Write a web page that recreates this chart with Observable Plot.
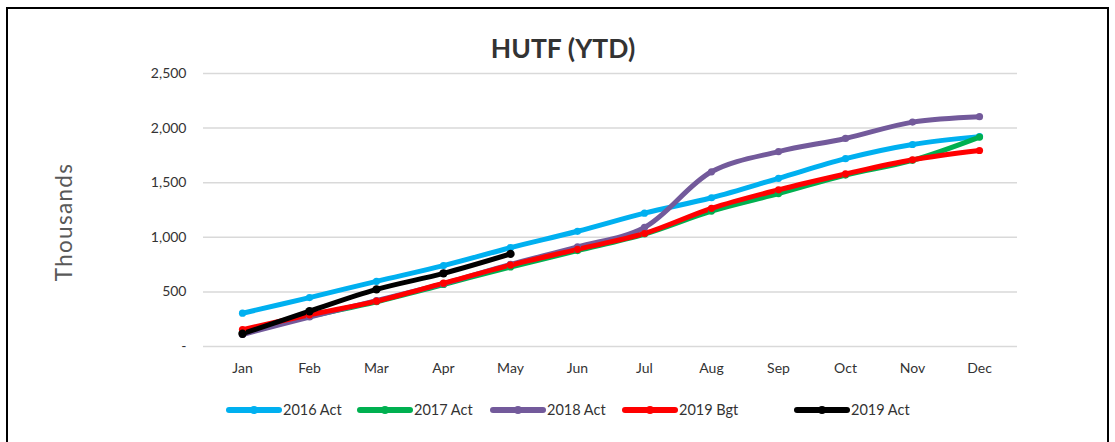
<!DOCTYPE html>
<html><head><meta charset="utf-8">
<script src="https://cdn.jsdelivr.net/npm/d3@7"></script>
<script src="https://cdn.jsdelivr.net/npm/@observablehq/plot@0.6"></script>
<style>
html,body{margin:0;padding:0;background:#fff;}
body{width:1115px;height:442px;position:relative;overflow:hidden;font-family:Lato,"Open Sans",sans-serif;}
#frame{position:absolute;left:6px;top:7px;width:1103px;height:460px;border:2px solid #000;box-sizing:border-box;}
#title{position:absolute;left:0;top:32px;width:1126px;text-align:center;font-size:26.5px;font-weight:bold;color:#333;}
#ylab{position:absolute;left:63px;top:222px;transform:translate(-50%,-50%) rotate(-90deg);font-size:22.5px;color:#595959;white-space:nowrap;letter-spacing:1.3px;}
#chart{position:absolute;left:0;top:0;}
#legend{position:absolute;left:0;top:401px;width:1115px;height:22px;font-size:14.5px;color:#333;}
.item{position:absolute;top:0;display:flex;align-items:center;gap:1px;}
</style></head>
<body>
<div id="frame"></div>
<div id="title">HUTF (YTD)</div>
<div id="ylab">Thousands</div>
<div id="chart"></div>
<div id="legend"></div>
<script>
const months = ["Jan","Feb","Mar","Apr","May","Jun","Jul","Aug","Sep","Oct","Nov","Dec"];
const seriesNames = ["2016 Act","2017 Act","2018 Act","2019 Bgt","2019 Act"];
const act2016 = [305, 448, 597, 741, 905, 1055, 1221, 1362, 1540, 1720, 1850, 1922];
const act2017 = [130, 275, 410, 568, 728, 878, 1030, 1240, 1400, 1570, 1705, 1918];
const act2018 = [110, 270, 420, 575, 752, 912, 1090, 1600, 1785, 1905, 2055, 2105];
const bgt2019 = [155, 290, 415, 580, 745, 890, 1035, 1265, 1435, 1580, 1710, 1795];
const act2019 = [117, 323, 523, 670, 848];
const yTicks = [0, 500, 1000, 1500, 2000, 2500];

const colors = ["#00B0F0", "#00B050", "#735A9B", "#FF0000", "#000000"];
const legendLeft = [226, 357, 490, 622, 794];
const allSeries = [act2016, act2017, act2018, bgt2019, act2019];
const data = allSeries.flatMap((vals, i) => vals.map((v, j) => ({series: seriesNames[i], month: months[j], value: v})));

const fmt = d => d === 0 ? "-" : d3.format(",")(d);

const chart = Plot.plot({
  width: 1115,
  height: 390,
  marginTop: 73,
  marginBottom: 44,
  marginLeft: 203,
  marginRight: 98,
  style: {fontFamily: "Lato, 'Open Sans', sans-serif", fontSize: "14px", color: "#404040", background: "transparent"},
  x: {type: "point", domain: months, padding: 0.5, label: null},
  y: {domain: [0, 2500], label: null},
  color: {domain: seriesNames, range: colors},
  marks: [
    Plot.gridY(yTicks, {stroke: "#d9d9d9", strokeOpacity: 1, strokeWidth: 1.5}),
    Plot.axisY(yTicks, {tickSize: 0, tickPadding: 17, tickFormat: fmt, fontSize: 14, fill: "#333"}),
    Plot.axisX({tickSize: 0, tickPadding: 17, fontSize: 14, fill: "#333"}),
    ...seriesNames.map(s => Plot.line(data.filter(d => d.series === s), {x: "month", y: "value", stroke: "series", strokeWidth: 5, curve: "catmull-rom", strokeLinecap: "round"})),
    ...seriesNames.map(s => Plot.dot(data.filter(d => d.series === s), {x: "month", y: "value", fill: "series", r: s === "2019 Act" ? 4.2 : 3.6}))
  ]
});
document.getElementById("chart").appendChild(chart);

const legend = document.getElementById("legend");
seriesNames.forEach((s, i) => {
  const item = document.createElement("div");
  item.className = "item";
  item.style.left = legendLeft[i] + "px";
  item.innerHTML = `<svg width="56" height="12"><line x1="3" y1="6" x2="53" y2="6" stroke="${colors[i]}" stroke-width="6" stroke-linecap="round"/><circle cx="28" cy="6" r="4" fill="${colors[i]}"/></svg><span>${s}</span>`;
  legend.appendChild(item);
});
</script>
</body></html>
